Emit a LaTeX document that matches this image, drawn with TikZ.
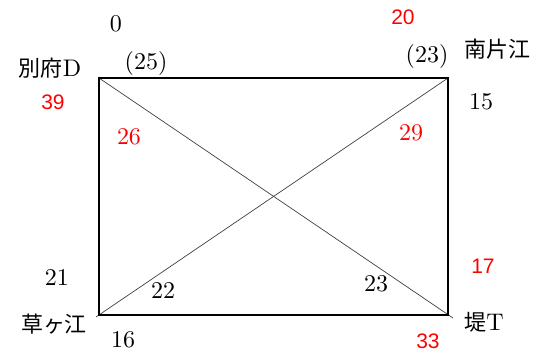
\documentclass[tikz,border=0pt]{standalone}
\usepackage{fontspec}
\setmainfont{lmroman10-regular.otf}
\newfontfamily\jp{Noto Sans CJK JP}
\newfontfamily\redsans{Liberation Sans}
\definecolor{lblred}{RGB}{255,0,0}
\begin{document}
\begin{tikzpicture}[x=1pt,y=-1pt,
  num/.style={inner sep=0pt,font=\fontsize{24}{26}\selectfont},
  rnum/.style={inner sep=0pt,text=lblred,font=\fontsize{21}{24}\redsans},
  rsnum/.style={inner sep=0pt,text=lblred,font=\fontsize{24}{26}\selectfont},
  place/.style={inner sep=0pt,font=\fontsize{24}{26}\selectfont},
  edge/.style={line width=1.6pt,black},
  diag/.style={line width=0.7pt,black!75}]
\useasboundingbox (0,0) rectangle (542,356);
\coordinate (A) at (99,78);
\coordinate (B) at (448,78);
\coordinate (C) at (448,315);
\coordinate (D) at (99,315);
\coordinate (Cx) at (453,318);
\coordinate (Dx) at (96,317);
\draw[diag] (A) -- (Cx);
\draw[diag] (B) -- (Dx);
\draw[edge] (A) -- (B) -- (C) -- (D) -- cycle;
\node[num] (n0) at (116,24) {0};
\node[rnum] (n20) at (403,17) {20};
\node[num] (n25) at (146,64) {(25)};
\node[num] (n23a) at (427,57) {(23)};
\node[place] (pA) at (50,68) {{\fontsize{22}{24}\jp 別府}D};
\node[place] (pB) at (497,49) {\fontsize{22}{24}\jp 南片江};
\node[rnum] (n39) at (53,102) {39};
\node[num] (n15) at (481,102) {15};
\node[rsnum] (n26) at (129,137) {26};
\node[rsnum] (n29) at (411,133) {29};
\node[num] (n21) at (57,278) {21};
\node[rnum] (n17) at (483,266) {17};
\node[num] (n22) at (163,291) {22};
\node[num] (n23) at (376,284) {23};
\node[place] (pD) at (54,324) {\fontsize{22}{24}\jp 草ヶ江};
\node[num] (n16) at (123,340) {16};
\node[place] (pC) at (484,322) {{\fontsize{22}{24}\jp 堤}T};
\node[rnum] (n33) at (428,341) {33};
\end{tikzpicture}
\end{document}
